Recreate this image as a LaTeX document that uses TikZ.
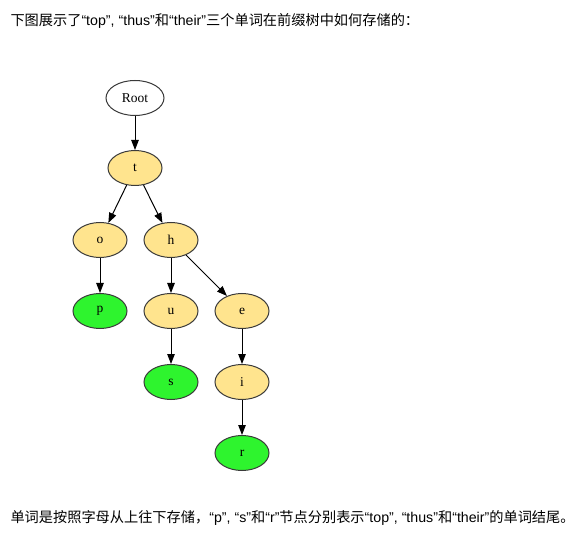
\documentclass[tikz,border=0pt]{standalone}
\usepackage{fontspec}
\setmainfont{Liberation Sans}
\newfontfamily\cjk{Noto Sans CJK SC}
\newfontfamily\trieserif{Liberation Serif}
\usetikzlibrary{shapes.geometric,arrows.meta}
\definecolor{trieyellow}{HTML}{FFE48E}
\definecolor{triegreen}{HTML}{2EF42E}
\definecolor{trieborder}{HTML}{3A3A3A}
\begin{document}
\begin{tikzpicture}[
	x=1pt,y=-1pt,
	>={Triangle[length=10pt,width=7.5pt]},
	line width=1pt,
	letter/.style={ellipse,draw=trieborder,fill=trieyellow,inner sep=0pt,
		minimum width=54pt,minimum height=35pt,font=\trieserif\fontsize{13.5}{14}\selectfont},
	wordend/.style={letter,fill=triegreen},
	caption/.style={anchor=west,inner sep=0pt,font=\fontsize{14.2}{16}\selectfont}
	]
	\useasboundingbox (0,0) rectangle (586,537);
	\node[caption] (head) at (10,20.5) {{\cjk 下图展示了}“top”, “thus”{\cjk 和}“their”{\cjk 三个单词在前缀树中如何存储的：}};
	\node[letter,fill=white,minimum width=58pt] (root) at (135,98) {Root};
	\node[letter] (t) at (135,168) {t};
	\node[letter] (o) at (100,240) {o};
	\node[letter] (h) at (171,240) {h};
	\node[wordend] (p) at (100,311) {p};
	\node[letter] (u) at (171,311) {u};
	\node[letter] (e) at (242,311) {e};
	\node[wordend] (s) at (171,382) {s};
	\node[letter] (i) at (242,382) {i};
	\node[wordend] (r) at (242,453) {r};
	\node[caption] (foot) at (10,518) {{\cjk 单词是按照字母从上往下存储，}“p”, “s”{\cjk 和}“r”{\cjk 节点分别表示}“top”, “thus”{\cjk 和}“their”{\cjk 的单词结尾。}};
	\begin{scope}[->]
		\draw (root) -- (t);
		\draw (t) -- (o);
		\draw (t) -- (h);
		\draw (o) -- (p);
		\draw (h) -- (u);
		\draw (h) -- (e);
		\draw (u) -- (s);
		\draw (e) -- (i);
		\draw (i) -- (r);
	\end{scope}
\end{tikzpicture}
\end{document}
